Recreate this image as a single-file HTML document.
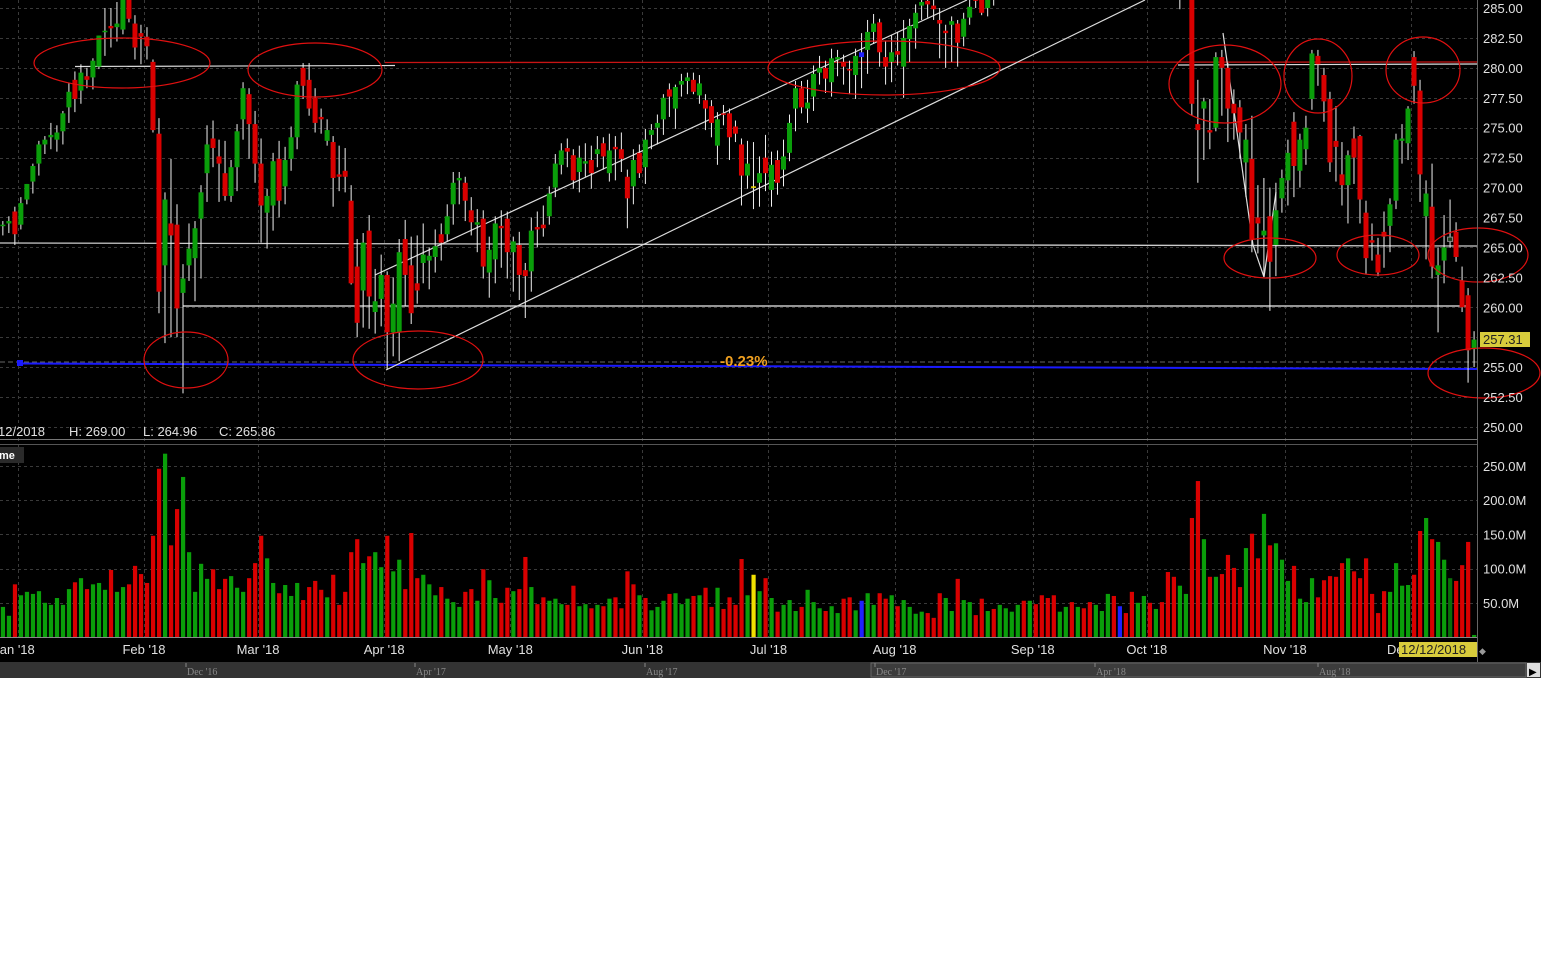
<!DOCTYPE html>
<html><head><meta charset="utf-8"><title>SPY chart</title>
<style>
html,body{margin:0;padding:0;background:#fff;}
svg{display:block;font-family:"Liberation Sans",sans-serif;}
</style></head>
<body>
<svg id="chart" width="1541" height="962" viewBox="0 0 1541 962" xmlns="http://www.w3.org/2000/svg">
<rect x="0" y="0" width="1541" height="678" fill="#000"/>
<g id="grid"></g>
<defs><clipPath id="priceClip"><rect x="0" y="0" width="1477" height="439"/></clipPath></defs>
<g id="overlays-under" clip-path="url(#priceClip)">
  <line x1="385" y1="62.5" x2="1477" y2="62" stroke="#c81414" stroke-width="1.3"/>
  <line x1="75" y1="66.5" x2="395" y2="65.5" stroke="#ddd" stroke-width="1.2"/>
  <line x1="1178" y1="65" x2="1477" y2="64" stroke="#ddd" stroke-width="1.2"/>
  <line x1="0" y1="243" x2="1477" y2="246" stroke="#ccc" stroke-width="1.3"/>
  <line x1="183" y1="306" x2="1470" y2="306" stroke="#eee" stroke-width="1.2"/>
  <line x1="0" y1="362" x2="1477" y2="362" stroke="#666" stroke-width="1" stroke-dasharray="5,3"/>
  <line x1="20" y1="363.5" x2="1477" y2="369" stroke="#1a1aff" stroke-width="2"/>
  <rect x="17" y="360" width="6" height="6" fill="#1a1aff"/>
  <line x1="375" y1="275" x2="967" y2="0" stroke="#ddd" stroke-width="1.2"/>
  <line x1="386" y1="370" x2="1145" y2="0" stroke="#ddd" stroke-width="1.2"/>
  <polyline points="1223,33 1253,245 1264,277 1276,192" fill="none" stroke="#ddd" stroke-width="1.2"/>
</g>
<g id="candles" clip-path="url(#priceClip)"></g>
<g id="circles" fill="none" stroke="#e01010" stroke-width="1.2">
  <ellipse cx="122" cy="63" rx="88" ry="25"/>
  <ellipse cx="315" cy="70" rx="67" ry="27"/>
  <ellipse cx="186" cy="360" rx="42" ry="28"/>
  <ellipse cx="418" cy="360" rx="65" ry="29"/>
  <ellipse cx="884" cy="68" rx="116" ry="27"/>
  <ellipse cx="1225" cy="84" rx="56" ry="39"/>
  <ellipse cx="1270" cy="258" rx="46" ry="20"/>
  <ellipse cx="1318" cy="76" rx="34" ry="37"/>
  <ellipse cx="1378" cy="255" rx="41" ry="20"/>
  <ellipse cx="1423" cy="70" rx="37" ry="33"/>
  <ellipse cx="1478" cy="255" rx="50" ry="27"/>
  <ellipse cx="1484" cy="373" rx="56" ry="25"/>
</g>
<text x="720" y="366" fill="#f0a020" font-size="15" font-weight="bold">-0.23%</text>
<g fill="#e0e0e0" font-size="13">
  <text x="-2" y="436">12/2018</text>
  <text x="69" y="436">H: 269.00</text>
  <text x="143" y="436">L: 264.96</text>
  <text x="219" y="436">C: 265.86</text>
</g>
<line x1="0" y1="439.5" x2="1477" y2="439.5" stroke="#777" stroke-width="1"/>
<line x1="0" y1="444.5" x2="1477" y2="444.5" stroke="#555" stroke-width="1"/>
<line x1="1477.5" y1="0" x2="1477.5" y2="662" stroke="#666" stroke-width="1"/>
<line x1="0" y1="637.5" x2="1477" y2="637.5" stroke="#888" stroke-width="1"/>
<g id="volume"></g>
<rect x="0" y="447" width="24" height="16" fill="#2a2a2a"/>
<text x="-1" y="459" fill="#fff" font-size="11" font-weight="bold">me</text>
<g id="axes"></g>
<rect x="1480" y="332" width="50" height="15" fill="#d8cc3c"/>
<text x="1483" y="344" fill="#222" font-size="13">257.31</text>
<rect x="1399" y="642" width="78" height="15" fill="#d8cc3c"/>
<text x="1401" y="654" fill="#222" font-size="13">12/12/2018</text>
<text x="1479" y="654" fill="#999" font-size="9">◆</text>
<rect x="0" y="662" width="1541" height="16" fill="#333"/>
<rect x="871" y="663" width="655" height="14" fill="#3c3c3c" stroke="#666" stroke-width="1"/>
<rect x="1527" y="663" width="13" height="14" fill="#ddd"/>
<text x="1529" y="675" fill="#000" font-size="10">▶</text>
<g id="scrolllabels" font-family="Liberation Serif, serif" font-size="10" fill="#888"></g>
</svg>
<script>
const opens=[266.8,267.0,268.0,266.9,269.0,270.5,272.0,273.6,274.2,274.0,
274.7,276.7,279.0,278.1,279.3,279.2,280.1,283.0,283.5,283.4,
283.2,286.0,283.7,282.9,282.6,280.5,274.5,263.5,267.0,266.9,
261.2,263.5,264.1,267.4,271.2,274.1,272.6,271.2,269.3,271.7,
275.7,277.8,275.3,272.0,267.9,268.5,272.4,270.1,272.4,274.2,
280.0,279.0,277.5,275.9,273.9,273.8,271.1,271.4,268.9,263.4,
261.4,266.4,259.6,260.7,262.7,257.9,257.9,265.7,263.5,262.0,
263.7,263.9,264.2,266.1,266.1,268.6,270.6,270.4,268.1,266.9,
267.4,262.9,264.0,266.8,267.4,264.6,265.2,263.1,263.0,266.7,
266.9,267.6,270.0,271.9,273.3,272.7,271.3,272.0,272.3,272.8,
273.7,271.2,273.4,273.2,270.9,270.1,272.9,271.7,274.4,275.0,
275.7,278.2,276.6,278.6,278.9,279.0,277.7,277.3,276.8,273.5,
276.2,276.2,275.1,273.6,271.0,270.0,270.4,272.5,269.8,272.3,
271.5,272.9,276.6,278.3,276.6,277.6,279.6,280.0,278.8,280.7,
280.5,279.9,279.4,280.9,281.5,283.0,283.8,280.9,280.5,281.4,
280.1,282.4,283.3,285.2,285.6,285.2,284.0,283.1,283.6,283.7,
282.6,284.2,286.0,285.9,285.0,285.8,
286.4,288.9,289.8,290.2,290.9,289.8,289.8,289.6,289.2,286.8,
288.7,287.5,289.1,289.7,291.0,290.6,289.6,291.1,292.6,293.1,
291.3,291.5,290.9,290.4,289.9,292.1,291.6,292.7,291.2,289.7,
286.3,287.1,
286.4,275.3,276.6,274.8,275.0,280.9,280.0,277.0,276.7,272.1,
272.4,267.5,266.0,267.6,265.2,269.1,270.6,275.5,271.4,273.2,
277.4,281.0,279.4,277.4,273.9,271.1,270.2,274.1,274.3,267.9,
265.6,264.4,266.3,266.8,268.9,273.9,273.7,280.9,278.1,267.6,
268.4,262.7,263.9,265.5,266.3,262.2,261.0,256.5];
const highs=[267.2,267.6,268.4,269.2,270.3,272.0,273.9,274.3,275.4,275.2,
276.4,278.7,279.7,280.3,280.0,280.8,282.7,285.0,285.0,285.5,
287.0,286.6,284.4,283.6,283.4,280.7,275.8,269.6,272.4,268.6,
263.6,267.0,267.2,270.2,275.2,275.6,274.0,273.9,272.3,275.3,
278.8,278.3,276.4,274.1,269.9,272.9,273.9,273.4,275.1,278.9,
280.4,280.4,278.3,276.6,275.7,274.3,273.5,273.3,270.2,265.7,
266.2,267.7,263.2,264.4,263.0,262.5,265.7,267.3,265.9,266.0,
267.0,265.0,266.5,267.0,268.6,271.3,271.3,270.9,269.2,268.2,
268.1,265.9,267.6,268.1,268.0,265.9,266.3,263.7,267.5,268.0,
268.5,270.1,272.8,273.7,274.1,273.2,273.5,273.7,273.5,274.3,
274.2,274.5,274.3,274.6,271.5,273.2,273.6,274.9,275.3,276.1,
277.8,278.7,278.6,279.5,279.6,279.6,279.4,277.8,277.3,276.3,
276.9,276.6,275.6,274.1,273.9,273.8,272.6,274.4,273.0,273.1,
274.0,276.1,278.9,278.9,279.0,280.2,281.0,280.6,281.6,281.5,
281.1,280.6,281.6,282.9,284.0,284.5,284.1,282.2,282.7,283.0,
284.0,284.1,285.3,286.0,286.1,285.9,285.0,283.6,284.3,284.0,
284.6,285.8,286.5,286.2,286.0,287.6,
287.7,289.9,290.1,291.7,291.1,290.8,290.2,289.8,289.6,288.7,
289.0,289.6,289.6,291.0,291.3,291.0,291.2,291.7,293.9,293.2,
291.7,291.7,292.2,291.2,290.9,292.9,292.4,293.2,291.2,290.3,
288.5,288.9,
286.9,279.0,277.5,277.4,281.3,281.5,280.4,278.2,277.3,275.3,
276.0,270.2,270.8,270.0,270.4,271.5,274.0,276.3,274.5,276.0,
281.5,281.5,280.0,278.0,276.8,273.8,273.1,275.1,274.4,268.9,
267.0,265.8,268.0,269.1,274.5,275.3,276.8,281.4,279.0,270.6,
272.0,265.0,267.7,269.0,267.1,263.4,261.6,258.0];
const lows=[266.0,266.2,265.2,266.5,268.6,269.5,271.0,272.8,273.2,273.0,
273.6,275.4,276.3,277.0,278.3,278.2,279.9,281.0,281.7,282.2,
282.8,283.8,280.7,280.3,280.7,274.6,259.5,257.0,257.5,257.5,
252.8,262.2,260.5,262.4,268.8,271.7,268.8,268.9,268.8,269.7,
274.0,272.4,270.4,265.4,264.9,266.4,267.5,268.6,271.4,273.2,
277.4,276.0,274.6,274.5,273.5,268.4,269.7,269.6,261.9,257.5,
258.3,258.2,257.8,258.4,254.8,255.9,255.5,260.1,258.6,260.3,
262.0,261.5,262.9,263.9,265.5,266.9,268.6,267.2,266.0,264.6,
262.4,260.8,262.0,263.3,262.4,261.3,260.6,259.1,261.3,265.0,
265.9,266.9,269.2,271.1,271.7,269.9,269.6,270.9,269.9,271.7,
271.5,270.5,270.6,271.3,266.6,268.6,270.8,270.3,273.2,273.6,
274.4,275.9,274.9,277.6,277.8,277.8,277.0,274.8,274.2,271.9,
275.2,272.3,273.8,268.5,269.9,268.2,268.4,269.7,268.4,269.4,
270.1,272.2,274.7,276.2,275.4,276.4,278.6,277.9,277.6,279.3,
278.6,277.8,277.4,278.3,279.5,282.0,280.1,278.6,278.8,280.2,
277.5,280.5,281.6,284.0,284.2,284.0,280.8,280.0,280.5,280.1,
281.8,283.6,285.0,284.4,284.3,285.2,
286.0,288.7,289.3,290.0,289.7,289.3,288.7,287.7,287.6,286.7,
287.4,287.5,288.4,289.5,290.0,289.1,289.4,290.8,292.3,291.7,
290.5,290.6,289.8,290.0,289.6,290.9,291.1,291.3,287.7,286.0,
284.9,286.2,
276.0,270.4,272.3,273.2,274.7,276.0,273.8,274.0,272.4,269.2,
264.6,264.5,262.6,259.7,262.6,267.9,268.5,269.2,270.0,271.9,
276.5,278.5,275.5,271.3,270.5,268.5,267.0,270.3,267.0,262.8,
263.9,262.6,263.3,264.6,268.2,272.0,272.3,277.0,268.8,264.0,
262.4,257.9,262.0,264.96,263.8,259.6,253.7,255.0];
const closes=[266.9,267.2,266.1,268.7,270.3,271.8,273.6,274.0,274.4,274.6,
276.2,278.0,277.4,279.6,279.0,280.6,282.7,283.1,283.3,283.7,
286.0,284.1,281.7,282.6,281.8,274.8,261.3,269.0,266.0,259.9,
262.4,264.9,266.6,269.6,273.6,273.3,272.0,269.3,271.7,274.7,
278.3,275.3,272.0,268.5,269.3,272.2,268.9,272.3,274.2,278.6,
278.5,276.6,275.4,275.7,274.8,270.8,270.9,270.9,262.0,258.7,
265.4,260.9,260.5,262.7,257.9,260.3,264.6,262.7,259.5,261.4,
264.4,264.3,265.1,265.4,267.6,270.4,270.8,268.9,267.1,267.1,
263.4,264.8,267.0,266.6,264.6,265.5,262.7,262.6,266.4,266.5,
266.6,269.5,272.0,273.1,273.0,270.6,272.5,272.2,271.2,273.2,
272.6,273.1,273.2,272.4,269.1,272.3,271.2,274.0,274.8,275.4,
277.5,277.6,278.4,278.9,279.2,278.0,278.7,276.6,275.4,275.7,
276.1,274.2,274.5,271.0,272.0,270.1,271.2,271.2,271.9,270.4,
272.6,275.4,278.3,276.7,277.1,279.5,280.0,279.1,280.8,280.9,
280.1,279.8,281.0,281.3,283.0,283.7,281.3,280.1,281.3,281.1,
282.5,283.5,284.6,285.5,285.3,284.9,283.7,282.9,283.9,282.1,
284.1,285.1,285.6,284.6,285.8,287.5,
287.5,289.8,289.9,291.5,290.3,290.3,289.8,289.0,288.2,287.6,
288.1,289.1,289.1,290.8,290.9,289.3,290.9,291.4,293.6,292.0,
291.0,290.8,289.9,290.7,290.7,291.7,291.6,291.7,289.4,287.8,
287.8,287.4,
277.0,274.8,277.2,274.6,280.9,280.0,276.6,276.2,274.6,274.0,
265.7,267.0,266.4,263.8,268.1,270.8,272.9,271.8,274.0,275.0,
281.2,280.3,277.2,272.1,273.4,270.2,272.7,272.5,269.0,264.1,
265.4,262.9,265.9,268.6,274.0,274.1,276.6,278.5,271.1,269.5,
263.4,263.5,265.0,265.86,264.2,260.0,256.4,257.3];
const volumes=[44,31,77,61,66,63,67,50,47,57,
47,70,80,86,70,77,79,69,98,66,
73,77,104,92,79,148,246,268,134,187,
234,124,66,107,85,99,70,85,89,72,
66,86,108,148,115,79,64,76,60,79,
54,73,82,69,58,91,47,66,124,143,
108,118,124,102,148,96,113,70,152,86,
91,77,61,73,56,51,44,66,70,53,
99,83,57,50,72,67,70,117,73,48,
58,53,56,48,47,75,45,48,42,47,
45,56,58,42,96,77,61,57,39,44,
53,63,64,48,56,60,61,72,44,72,
41,58,47,114,61,91,67,86,
57,37,47,54,38,44,69,51,42,38,
45,35,56,58,39,53,64,47,64,56,
61,45,54,44,34,37,35,28,64,57,
38,85,54,51,32,56,38,41,47,42,
37,47,53,53,48,61,57,61,37,44,
51,44,42,51,47,38,63,60,45,35,
66,50,60,50,41,51,95,88,75,63,
174,228,143,88,88,92,120,101,73,130,
151,115,180,134,137,113,82,104,56,51,
86,58,83,89,88,108,115,96,86,115,
63,35,67,66,108,75,76,91,155,174,
143,139,113,86,82,105,139,3];
const volColors="ggrggggggg"+"ggrgrgggrg"+"grrrrrrgrr"+"gggggrrrgg"+"grrrggrggg"+"rrrrgrrrrr"+"grggrggrrr"+"gggrgggrrg"+"rggrrgrrgr"+"rgggrrggrg"+"rgrrrrgrgg"+"grgggrgrrg"+"rrrrgygr"+
"grgggrgggr"+"ggrrgbggrr"+"grggggrrrg"+"grggrrgrgg"+"ggrgrrrrgg"+"rgrrgggrbr"+"rggrgrrrgg"+"rrgrgrrrrg"+"rrgrgggrgg"+"grrrrrgrrr"+"rrrggggrrg"+"rggdrrrg";
const priceTicks=["285.00","282.50","280.00","277.50","275.00","272.50","270.00","267.50","265.00","262.50","260.00","257.50","255.00","252.50","250.00"];
const volTicks=["250.0M","200.0M","150.0M","100.0M","50.0M"];
const monthLabels=["Jan '18","Feb '18","Mar '18","Apr '18","May '18","Jun '18","Jul '18","Aug '18","Sep '18","Oct '18","Nov '18","De"];
const monthIdx=[3,24,43,64,85,107,128,149,172,191,214,235];
const scrollLabels=["Dec '16","Apr '17","Aug '17","Dec '17","Apr '18","Aug '18"];
const scrollPos=[186,415,645,875,1095,1318];
const specialCandles={125:"#f0e000",143:"#2020ff",241:"hollow"};

const NS="http://www.w3.org/2000/svg";
function xOf(i){return 183+(i-30)*6.005;}
function yP(p){return 8+(285-p)*11.97;}
function yV(v){return 637-v*0.684;}
function mk(tag,attrs,parent){const e=document.createElementNS(NS,tag);for(const k in attrs)e.setAttribute(k,attrs[k]);parent.appendChild(e);return e;}

const grid=document.getElementById('grid');
priceTicks.forEach(t=>{const y=Math.round(yP(parseFloat(t)))+0.5;
  const l=mk('line',{x1:0,x2:1477,y1:y,y2:y,stroke:'#3a3a3a','stroke-dasharray':'3,3'},grid);
  
  });
volTicks.forEach(t=>{const y=Math.round(yV(parseFloat(t)))+0.5;
  const l=mk('line',{x1:0,x2:1477,y1:y,y2:y,stroke:'#3a3a3a','stroke-dasharray':'3,3'},grid);
  
  });
monthIdx.forEach(i=>{const x=Math.round(xOf(i)-3)+0.5;
  const l=mk('line',{x1:x,x2:x,y1:0,y2:637,stroke:'#3a3a3a','stroke-dasharray':'3,3'},grid);
  
  });

const cg=document.getElementById('candles');
for(let i=0;i<opens.length;i++){
  const o=opens[i],c=closes[i],h=highs[i],lo=lows[i];
  const x=xOf(i);
  let col=c>=o?'#0a9e0a':'#d90000';
  const sp=specialCandles[i];
  const g=mk('g',{},cg);
  
  
  mk('line',{x1:x,x2:x,y1:yP(h),y2:yP(lo),stroke:'#f0f0f0','stroke-width':1},g);
  const top=yP(Math.max(o,c)),bh=Math.max(1.5,Math.abs(yP(o)-yP(c)));
  if(sp==='hollow'){mk('rect',{x:x-2.5,y:top,width:5,height:bh,fill:'#1a3a1a',stroke:'#888','stroke-width':1},g);}
  else{ if(sp)col=sp; mk('rect',{x:x-2.5,y:top,width:5,height:bh,fill:col},g);}
}

const vg=document.getElementById('volume');
const vcol={g:'#0a9e0a',r:'#d90000',y:'#f0e000',b:'#2020ff',d:'#0a6e0a'};
for(let i=0;i<volumes.length;i++){
  const y=yV(volumes[i]);
  const r=mk('rect',{x:xOf(i)-2,y:y,width:4.2,height:637-y,fill:vcol[volColors[i]]||'#0a9e0a'},vg);
  
  
}

const ax=document.getElementById('axes');
priceTicks.forEach(t=>{const tx=mk('text',{x:1483,y:yP(parseFloat(t))+5,fill:'#e0e0e0','font-size':13},ax);tx.textContent=t;
  
  });
volTicks.forEach(t=>{const tx=mk('text',{x:1483,y:yV(parseFloat(t))+5,fill:'#e0e0e0','font-size':13},ax);tx.textContent=t;
  
  });
monthLabels.forEach((t,k)=>{let x=xOf(monthIdx[k])-3;
  if(k===0)x=14;
  const tx=mk('text',{x:k===11?x-24:x,y:654,fill:'#e0e0e0','font-size':13,'text-anchor':k===11?'start':'middle'},ax);tx.textContent=t;
  
  });
const sl=document.getElementById('scrolllabels');
scrollLabels.forEach((t,k)=>{
  mk('line',{x1:scrollPos[k],x2:scrollPos[k],y1:663,y2:667,stroke:'#888'},sl);
  const tx=mk('text',{x:scrollPos[k]+1,y:675},sl);tx.textContent=t;
  
  });
</script>
</body></html>
